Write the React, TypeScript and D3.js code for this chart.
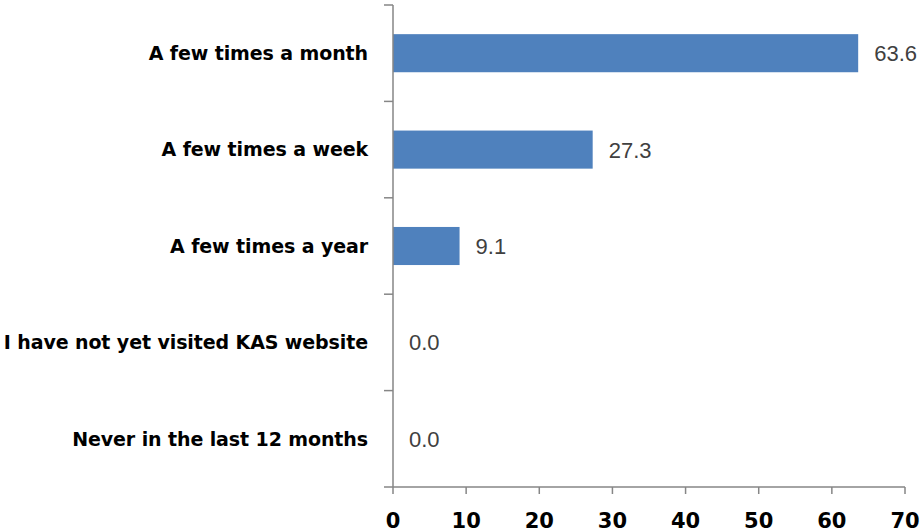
import * as d3 from "d3";

const categories = [
  "A few times a month",
  "A few times a week",
  "A few times a year",
  "I have not yet visited KAS website",
  "Never in the last 12 months",
];
const values = [63.6, 27.3, 9.1, 0.0, 0.0];
const xTicks = [0, 10, 20, 30, 40, 50, 60, 70];

const W = 922;
const H = 532;
const left = 393;
const right = 905;
const top = 5;
const bottom = 487;

export default function App() {
  const x = d3.scaleLinear().domain([0, 70]).range([left, right]);
  const y = d3.scaleBand<string>().domain(categories).range([top, bottom]).paddingInner(0).paddingOuter(0);
  const bandW = y.bandwidth();
  const barH = bandW * 0.395;
  const axisColor = "#868686";
  const catTicks = categories.map((c) => y(c)!).concat([bottom]);

  return (
    <svg width={W} height={H} style={{ position: "absolute", left: 0, top: 0, background: "#fff" }}>
      {categories.map((c, i) => {
        const cy = y(c)! + bandW / 2;
        return (
          <g key={c}>
            {values[i] > 0 && (
              <rect x={x(0)} y={cy - barH / 2} width={x(values[i]) - x(0)} height={barH} fill="#4F81BD" />
            )}
            <text
              x={x(values[i]) + 16}
              y={cy}
              dy="0.36em"
              fontFamily="'Liberation Sans', Arial, sans-serif"
              fontSize={22}
              fill="#404040"
            >
              {values[i].toFixed(1)}
            </text>
            <text
              x={368}
              y={cy}
              dy="0.36em"
              textAnchor="end"
              fontFamily="'DejaVu Sans', sans-serif"
              fontWeight="bold"
              fontSize={19}
              letterSpacing={-0.1}
              fill="#000"
            >
              {c}
            </text>
          </g>
        );
      })}
      <line x1={left} x2={left} y1={top} y2={bottom} stroke={axisColor} strokeWidth={1.5} />
      {catTicks.map((t, i) => (
        <line key={i} x1={384} x2={left} y1={t} y2={t} stroke={axisColor} strokeWidth={1.5} />
      ))}
      <line x1={left} x2={right} y1={bottom} y2={bottom} stroke={axisColor} strokeWidth={1.5} />
      {xTicks.map((t) => (
        <g key={t}>
          <line x1={x(t)} x2={x(t)} y1={bottom} y2={bottom + 7} stroke={axisColor} strokeWidth={1.5} />
          <text
            x={x(t)}
            y={528}
            textAnchor="middle"
            fontFamily="'DejaVu Sans', sans-serif"
            fontWeight="bold"
            fontSize={21}
            fill="#000"
          >
            {t}
          </text>
        </g>
      ))}
    </svg>
  );
}
